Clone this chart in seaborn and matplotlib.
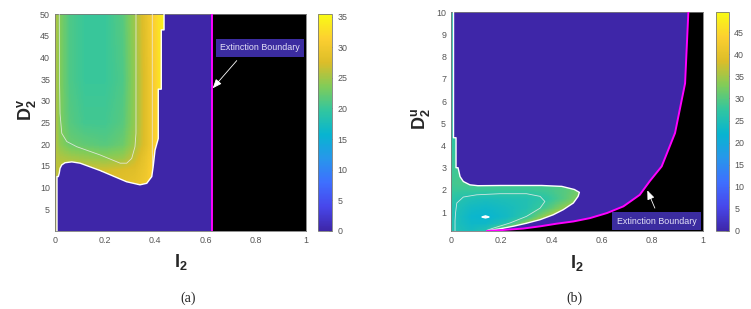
import numpy as np
import matplotlib
matplotlib.use("Agg")
import matplotlib.pyplot as plt
import matplotlib.transforms as mtransforms
from matplotlib.path import Path
import seaborn as sns

# ---------------- data ----------------
parula_colors = [
    (0.2422, 0.1504, 0.6603), (0.2803, 0.2782, 0.9221), (0.2440, 0.4358, 0.9988),
    (0.1540, 0.5902, 0.9218), (0.0297, 0.7082, 0.8163), (0.1938, 0.7758, 0.6251),
    (0.5044, 0.7993, 0.3480), (0.8634, 0.7406, 0.1596), (0.9892, 0.8136, 0.1885),
    (0.9769, 0.9839, 0.0805),
]

x_ticks = [0, 0.2, 0.4, 0.6, 0.8, 1]
x_ticklabels = ["0", "0.2", "0.4", "0.6", "0.8", "1"]

# Panel (a)
a_ylim = (0, 50)
a_vmax = 35.4
a_yticks = [5, 10, 15, 20, 25, 30, 35, 40, 45, 50]
a_cticks = [0, 5, 10, 15, 20, 25, 30, 35]
a_ext_x = [0.625, 0.625]
a_ext_y = [0, 50]
a_bound_x = [0.008, 0.008, 0.013, 0.017, 0.020, 0.027, 0.040, 0.067, 0.100, 0.180, 0.286,
             0.339, 0.366, 0.386, 0.392, 0.399, 0.412, 0.412, 0.424, 0.424, 0.435, 0.435]
a_bound_y = [-1, 12.5, 12.5, 13.3, 14.4, 15.2, 15.7, 15.9, 15.6, 13.9, 11.3,
             10.6, 10.95, 12.5, 15.0, 18.6, 21.3, 32.7, 32.7, 46.4, 46.4, 51]
a_cont1_x = [0.017, 0.018, 0.020, 0.027, 0.047, 0.087, 0.180, 0.260, 0.286, 0.306, 0.319, 0.323, 0.323]
a_cont1_y = [51, 35, 27.1, 22.5, 20.6, 19.4, 17.5, 15.6, 15.6, 16.7, 19.4, 22.5, 51]
a_cont2_x = [0.388, 0.388, 0.388, 0.390]
a_cont2_y = [51, 30, 18, 14.5]
a_node_x = [0.0, 0.02, 0.06, 0.12, 0.2, 0.27, 0.32, 0.36, 0.39, 0.42, 0.44]
a_node_y = [10, 14, 17, 20, 25, 35, 50]
a_values = [
    [26, 27.0, 27.5, 28.0, 28.5, 28.5, 29.0, 30.0, 31.5, 33.5, 35],
    [26, 26.5, 27.0, 27.0, 27.0, 27.5, 28.0, 29.5, 31.5, 33.5, 35],
    [26, 25.5, 25.0, 24.5, 24.0, 24.5, 26.5, 29.0, 31.0, 33.5, 35],
    [26, 24.0, 22.5, 22.0, 21.5, 22.5, 25.0, 28.0, 30.5, 33.5, 35],
    [26, 23.5, 21.5, 20.5, 20.5, 21.5, 24.5, 28.0, 30.5, 33.5, 35],
    [26, 23.5, 21.0, 20.0, 20.0, 21.0, 24.5, 28.0, 30.5, 33.5, 35],
    [26, 23.5, 21.0, 20.0, 20.0, 21.5, 25.0, 28.5, 31.0, 33.5, 35],
]
a_label_xy = (0.818, 42.3)
a_arrow_tail = (0.725, 39.3)
a_arrow_head = (0.629, 32.9)

# Panel (b)
b_ylim = (0.15, 10)
b_vmax = 49.5
b_yticks = [1, 2, 3, 4, 5, 6, 7, 8, 9, 10]
b_cticks = [0, 5, 10, 15, 20, 25, 30, 35, 40, 45]
b_ext_x = [0.142, 0.200, 0.287, 0.354, 0.420, 0.486, 0.552, 0.620, 0.685, 0.750, 0.790, 0.837, 0.890, 0.930, 0.943]
b_ext_y = [0.15, 0.19, 0.26, 0.36, 0.48, 0.58, 0.73, 0.96, 1.26, 1.78, 2.40, 3.06, 4.56, 6.80, 10.0]
b_bound_x = [0.010, 0.010, 0.020, 0.020, 0.028, 0.036, 0.049, 0.075, 0.107, 0.200, 0.360, 0.440, 0.490,
             0.510, 0.505, 0.486, 0.446, 0.406, 0.354, 0.300, 0.250, 0.200, 0.150, 0.130]
b_bound_y = [10.5, 4.35, 4.35, 3.0, 3.0, 2.6, 2.38, 2.23, 2.19, 2.20, 2.20, 2.16, 2.02,
             1.89, 1.71, 1.41, 1.11, 0.88, 0.66, 0.50, 0.37, 0.26, 0.17, 0.0]
b_cont_x = [0.016, 0.016, 0.018, 0.023, 0.049, 0.102, 0.195, 0.300, 0.354, 0.373, 0.354, 0.300, 0.234, 0.168, 0.142]
b_cont_y = [0.10, 0.60, 0.96, 1.41, 1.68, 1.78, 1.83, 1.83, 1.71, 1.48, 1.18, 0.81, 0.51, 0.28, 0.18]
b_spot_x = [0.122, 0.137, 0.152, 0.137, 0.122]
b_spot_y = [0.78, 0.83, 0.78, 0.74, 0.78]
b_node_x = [0.0, 0.03, 0.08, 0.14, 0.22, 0.30, 0.38, 0.45, 0.52]
b_node_y = [0.15, 0.5, 0.8, 1.2, 1.6, 2.0, 2.3, 4.5, 10]
b_values = [
    [26.0, 25.0, 24.0, 26.0, 36.0, 42.0, 45.0, 45.0, 45.0],
    [26.0, 24.5, 23.0, 23.0, 26.0, 34.0, 42.0, 45.0, 45.0],
    [26.0, 24.5, 22.5, 22.0, 23.5, 27.0, 35.0, 40.0, 42.0],
    [26.0, 25.0, 23.5, 23.0, 24.0, 25.5, 29.0, 34.0, 38.0],
    [27.0, 26.0, 25.0, 24.5, 25.0, 25.5, 27.0, 30.0, 34.0],
    [28.0, 28.0, 28.0, 28.0, 28.0, 28.0, 28.5, 30.0, 32.0],
    [28.5, 29.0, 29.0, 29.0, 29.0, 29.0, 29.0, 30.0, 32.0],
    [27.0, 27.0, 27.0, 27.0, 27.0, 27.0, 27.0, 27.0, 27.0],
    [26.0, 26.0, 26.0, 26.0, 26.0, 26.0, 26.0, 26.0, 26.0],
]
b_label_xy = (0.817, 0.60)
b_arrow_tail = (0.810, 1.18)
b_arrow_head = (0.780, 1.98)

# ---------------- style ----------------
sns.set_style("white")
plt.rcParams["font.family"] = ["Liberation Sans", "DejaVu Sans"]
plt.rcParams["mathtext.fontset"] = "custom"
plt.rcParams["mathtext.bf"] = "Liberation Sans:bold"
plt.rcParams["mathtext.rm"] = "Liberation Sans"

parula = sns.blend_palette(parula_colors, n_colors=256, as_cmap=True)
GRAY = "#555555"
BOX = "#3b2ca0"

fig = plt.figure(figsize=(7.51, 3.09), dpi=100)
W, H = 751.0, 309.0


def fax(l, t, r, b):
    return fig.add_axes([l / W, 1 - b / H, (r - l) / W, (b - t) / H])


def build(node_x, node_y, values, bx, by, ext_x, ext_y, ylim, nx, ny):
    xc = (np.arange(nx) + 0.5) / nx
    dy = (ylim[1] - ylim[0]) / ny
    yc = ylim[0] + (np.arange(ny) + 0.5) * dy
    vals = np.asarray(values, float)
    rows = np.array([np.interp(xc, node_x, r) for r in vals])
    F = np.array([np.interp(yc, node_y, rows[:, j]) for j in range(nx)]).T
    XX, YY = np.meshgrid(xc, yc)
    poly = [(-0.05, by[0])] + list(zip(bx, by)) + [(-0.05, by[-1])]
    inside = Path(poly).contains_points(np.column_stack([XX.ravel(), YY.ravel()])).reshape(XX.shape)
    Z = np.where(inside, F, 0.0)
    ext = XX > np.interp(YY, ext_y, ext_x)
    Z[ext] = np.nan
    return Z, 1.0 / nx, dy


def panel(ax, cax, Z, dx, ylim, dy, vmax, yticks, cticks):
    ax.set_facecolor("black")
    sns.heatmap(Z, ax=ax, cmap=parula, vmin=0, vmax=vmax, cbar_ax=cax,
                xticklabels=False, yticklabels=False, rasterized=True)
    mesh = ax.collections[0]
    mesh.set_transform(mtransforms.Affine2D().scale(dx, dy).translate(0, ylim[0]) + ax.transData)
    ax.set_xlim(0, 1)
    ax.set_ylim(*ylim)
    ax.set_xticks(x_ticks)
    ax.set_xticklabels(x_ticklabels)
    ax.set_yticks(yticks)
    ax.set_yticklabels([str(v) for v in yticks])
    ax.tick_params(direction="in", length=2.5, width=0.5, color=GRAY,
                   labelsize=6.4, labelcolor=GRAY, pad=3.5)
    for s in ax.spines.values():
        s.set_visible(True)
        s.set_color("#7a7a7a")
        s.set_linewidth(0.6)
    cb = mesh.colorbar
    cb.outline.set_linewidth(0.6)
    cb.outline.set_edgecolor("#7a7a7a")
    cb.set_ticks(cticks)
    cb.set_ticklabels([str(v) for v in cticks])
    cax.tick_params(direction="in", length=2.5, width=0.5, color=GRAY,
                    labelsize=6.4, labelcolor=GRAY, pad=3.5)


def annot(ax, xy, tail, head):
    ax.text(xy[0], xy[1], "Extinction Boundary", ha="center", va="center",
            fontsize=6.4, color="#e4e2f7",
            bbox=dict(boxstyle="square,pad=0.5", fc=BOX, ec="none"), zorder=6)
    ax.annotate("", xy=head, xytext=tail,
                arrowprops=dict(arrowstyle="-|>,head_length=0.55,head_width=0.22",
                                color="white", lw=0.6, shrinkA=0, shrinkB=0,
                                mutation_scale=10), zorder=6)


# ---- panel (a)
axa = fax(55, 14.3, 305.7, 230.7)
caxa = fax(318.3, 14.3, 332.3, 230.7)
Za, dxa, dya = build(a_node_x, a_node_y, a_values, a_bound_x, a_bound_y,
                     a_ext_x, a_ext_y, a_ylim, 400, 300)
panel(axa, caxa, Za, dxa, a_ylim, dya, a_vmax, a_yticks, a_cticks)
axa.plot(a_bound_x, a_bound_y, color="white", lw=1.0, zorder=3)
axa.plot(a_cont1_x, a_cont1_y, color="#ececec", lw=0.6, alpha=0.85, zorder=3)
axa.plot(a_cont2_x, a_cont2_y, color="#ececec", lw=0.6, alpha=0.85, zorder=3)
axa.plot(a_ext_x, a_ext_y, color="#ff00ff", lw=1.4, zorder=4)
annot(axa, a_label_xy, a_arrow_tail, a_arrow_head)
axa.set_xlabel(r"$\mathbf{I_2}$", fontsize=13)
axa.set_ylabel(r"$\mathbf{D_2^v}$", fontsize=13)
axa.xaxis.set_label_coords(0.5, -0.10)
axa.yaxis.set_label_coords(-0.068, 0.56)

# ---- panel (b)
axb = fax(451, 12.3, 702.7, 231)
caxb = fax(715.5, 12.3, 729.3, 231)
Zb, dxb, dyb = build(b_node_x, b_node_y, b_values, b_bound_x, b_bound_y,
                     b_ext_x, b_ext_y, b_ylim, 400, 350)
panel(axb, caxb, Zb, dxb, b_ylim, dyb, b_vmax, b_yticks, b_cticks)
axb.plot(b_bound_x, b_bound_y, color="white", lw=1.0, zorder=3)
axb.plot(b_cont_x, b_cont_y, color="#ececec", lw=0.6, alpha=0.85, zorder=3)
axb.fill(b_spot_x, b_spot_y, color="white", zorder=3)
axb.plot(b_ext_x, b_ext_y, color="#ff00ff", lw=1.4, zorder=4)
annot(axb, b_label_xy, b_arrow_tail, b_arrow_head)
axb.set_xlabel(r"$\mathbf{I_2}$", fontsize=13)
axb.set_ylabel(r"$\mathbf{D_2^u}$", fontsize=13)
axb.xaxis.set_label_coords(0.5, -0.10)
axb.yaxis.set_label_coords(-0.077, 0.51)

fig.text(188 / W, 1 - 298 / H, "(a)", ha="center", va="center", fontsize=10,
         family="Liberation Serif")
fig.text(574 / W, 1 - 298 / H, "(b)", ha="center", va="center", fontsize=10,
         family="Liberation Serif")

fig.savefig("out.png", dpi=100)
